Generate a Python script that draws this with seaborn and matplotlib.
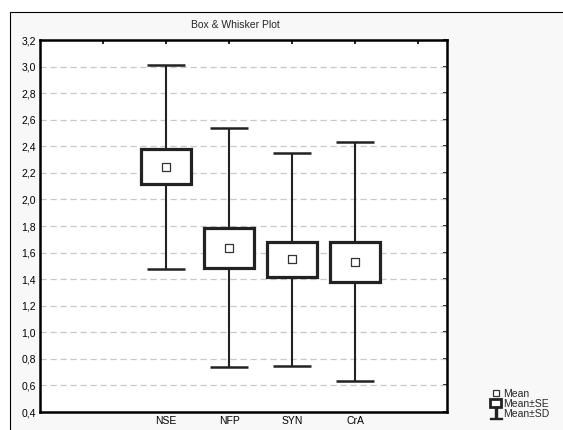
import matplotlib
matplotlib.use("Agg")
import matplotlib.pyplot as plt
from matplotlib.patches import Rectangle
from matplotlib.lines import Line2D
import seaborn as sns
import numpy as np
import pandas as pd

# data
groups = ["NSE", "NFP", "SYN", "CrA"]
means = [2.245, 1.637, 1.55, 1.53]
se = [0.132, 0.15, 0.132, 0.15]
sd = [0.77, 0.90, 0.80, 0.90]
xpos = [2, 3, 4, 5]
tick_pos = [1, 2, 3, 4, 5, 6]
tick_labels = ["", "NSE", "NFP", "SYN", "CrA", ""]
yticks = [0.4, 0.6, 0.8, 1.0, 1.2, 1.4, 1.6, 1.8, 2.0, 2.2, 2.4, 2.6, 2.8, 3.0, 3.2]

sns.set_style("white")
plt.rcParams['font.family'] = ['Liberation Sans', 'DejaVu Sans']

df = pd.DataFrame({"x": xpos, "mean": means, "se": se, "sd": sd})

fig = plt.figure(figsize=(5.63, 4.30), dpi=100)
fig.patch.set_facecolor("white")

# outer frame
frame = Rectangle((10/563, -0.05), 1.0, 1 - 12/430 + 0.05,
                  transform=fig.transFigure, facecolor="#f8f8f8",
                  edgecolor="black", linewidth=0.8, zorder=-10)
fig.patches.append(frame)

ax = fig.add_axes([40/563, 1 - 412/430, (447 - 40)/563, (412 - 40)/430])
ax.set_facecolor("white")

# SD whiskers
ax.errorbar(df["x"], df["mean"], yerr=df["sd"], fmt="none", ecolor="#222222",
            elinewidth=1.5, capsize=14, capthick=1.8, zorder=2)

# SE boxes
ax.bar(df["x"], 2 * df["se"], bottom=df["mean"] - df["se"], width=0.79,
       color="white", edgecolor="#222222", linewidth=2.3, zorder=3)

# mean markers
sns.scatterplot(data=df, x="x", y="mean", marker="s", s=34, color="white",
                edgecolor="#333333", linewidth=0.9, zorder=4, ax=ax)

ax.set_xlim(0, 6.46)
ax.set_ylim(0.4, 3.2)
ax.set_xticks(tick_pos)
ax.set_xticklabels(tick_labels)
ax.set_yticks(yticks)
ax.set_yticklabels([f"{v:.1f}".replace(".", ",") for v in yticks])
ax.set_xlabel("")
ax.set_ylabel("")

for v in yticks[1:-1]:
    ax.axhline(v, color="#c8c8c8", linestyle=(0, (5, 3)), linewidth=0.9, zorder=1)

for s in ax.spines.values():
    s.set_visible(True)
    s.set_color("black")
    s.set_linewidth(1.8)

ax.tick_params(axis="both", which="both", direction="in", length=3, width=1.2,
               labelsize=7.5, colors="black", top=True, right=True, pad=3)

fig.text(235/563, 1 - 25/430, "Box & Whisker Plot", ha="center", va="center",
         fontsize=7.5)

handles = [
    Line2D([], [], marker="s", markersize=5, markerfacecolor="white",
           markeredgecolor="#333333", markeredgewidth=0.9, linestyle="none"),
    Rectangle((0, 0), 1, 1, facecolor="white", edgecolor="#222222", linewidth=2.0),
    Line2D([], [], marker=r"$\perp$", markersize=9, color="#222222",
           linestyle="none"),
]
fig.legend(handles, ["Mean", "Mean±SE", "Mean±SD"], loc="lower left",
           bbox_to_anchor=(490/563, 11/430), frameon=False, fontsize=7.5,
           handlelength=1.1, handleheight=0.8, handletextpad=0.2,
           labelspacing=0.0, borderpad=0, borderaxespad=0)

fig.savefig("out.png", dpi=100)
